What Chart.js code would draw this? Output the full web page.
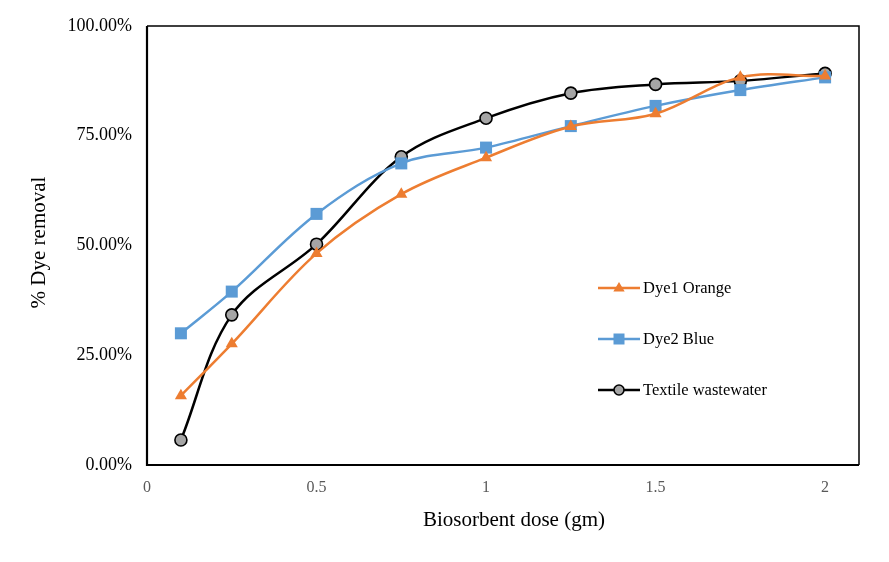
<!DOCTYPE html>
<html>
<head>
<meta charset="utf-8">
<script src="https://cdn.jsdelivr.net/npm/chart.js@4.4.1/dist/chart.umd.min.js"></script>
<style>
  html, body { margin: 0; padding: 0; background: #fff; }
  #wrap { width: 889px; height: 562px; position: relative; }
</style>
</head>
<body>
<div id="wrap"><canvas id="c" width="889" height="562"></canvas></div>
<script>
const doses = [0.1, 0.25, 0.5, 0.75, 1, 1.25, 1.5, 1.75, 2];
const dye1Orange = [15.8, 27.6, 48.2, 61.7, 70.0, 77.1, 80.0, 88.3, 88.6];
const dye2Blue = [30.0, 39.5, 57.2, 68.7, 72.3, 77.2, 81.8, 85.4, 88.3];
const textileWastewater = [5.7, 34.2, 50.3, 70.2, 79.0, 84.7, 86.7, 87.5, 89.2];
const seriesNames = ['Dye1 Orange', 'Dye2 Blue', 'Textile wastewater'];
const yTicks = [0, 25, 50, 75, 100];
const xTicks = [0, 0.5, 1, 1.5, 2];

const FONT = "'Liberation Serif', 'Times New Roman', serif";

function pts(vals) { return doses.map((d, i) => ({ x: d, y: vals[i] })); }

function shiftTitle(scale, dx, dy) {
  if (scale._titleShifted) return;
  scale._titleShifted = true;
  const orig = Object.getPrototypeOf(scale).drawTitle;
  scale.drawTitle = function () {
    this.ctx.save();
    this.ctx.translate(dx, dy);
    orig.call(this);
    this.ctx.restore();
  };
}

const frame = {
  id: 'frame',
  afterDatasetsDraw(chart) {
    const { ctx, chartArea: a } = chart;
    ctx.save();
    ctx.strokeStyle = '#000';
    ctx.lineWidth = 1.5;
    ctx.beginPath();
    ctx.moveTo(a.left, a.top);
    ctx.lineTo(a.right, a.top);
    ctx.lineTo(a.right, a.bottom);
    ctx.stroke();
    ctx.lineWidth = 2.2;
    ctx.beginPath();
    ctx.moveTo(a.left, a.top);
    ctx.lineTo(a.left, a.bottom);
    ctx.lineTo(a.right, a.bottom);
    ctx.stroke();
    ctx.restore();
  }
};

const customLegend = {
  id: 'customLegend',
  afterDraw(chart) {
    const { ctx } = chart;
    const x0 = 598, x1 = 640, tx = 643;
    const ys = [288, 339, 390];
    chart.data.datasets.forEach((ds, i) => {
      const y = ys[i];
      ctx.save();
      ctx.strokeStyle = ds.borderColor;
      ctx.lineWidth = ds.borderWidth;
      ctx.beginPath();
      ctx.moveTo(x0, y);
      ctx.lineTo(x1, y);
      ctx.stroke();
      const cx = (x0 + x1) / 2;
      ctx.fillStyle = ds.pointBackgroundColor;
      ctx.strokeStyle = ds.pointBorderColor;
      ctx.lineWidth = ds.pointBorderWidth;
      ctx.beginPath();
      if (ds.pointStyle === 'triangle') {
        const r = 6;
        ctx.moveTo(cx, y - r);
        ctx.lineTo(cx + r * 0.95, y + r * 0.6);
        ctx.lineTo(cx - r * 0.95, y + r * 0.6);
        ctx.closePath();
      } else if (ds.pointStyle === 'rect') {
        const s = 5.5;
        ctx.rect(cx - s, y - s, 2 * s, 2 * s);
      } else {
        ctx.arc(cx, y, 5, 0, Math.PI * 2);
      }
      ctx.fill();
      if (ds.pointBorderWidth > 0) ctx.stroke();
      ctx.fillStyle = '#000';
      ctx.font = '16.5px ' + FONT;
      ctx.textBaseline = 'middle';
      ctx.textAlign = 'left';
      ctx.fillText(seriesNames[i], tx, y + 1);
      ctx.restore();
    });
  }
};

new Chart(document.getElementById('c'), {
  type: 'line',
  data: {
    datasets: [
      {
        label: seriesNames[0],
        data: pts(dye1Orange),
        borderColor: '#ED7D31',
        backgroundColor: '#ED7D31',
        pointBackgroundColor: '#ED7D31',
        pointBorderColor: '#ED7D31',
        pointBorderWidth: 0,
        pointStyle: 'triangle',
        pointRadius: 7,
        borderWidth: 2.5,
        tension: 0.35,
        fill: false
      },
      {
        label: seriesNames[1],
        data: pts(dye2Blue),
        borderColor: '#5B9BD5',
        backgroundColor: '#5B9BD5',
        pointBackgroundColor: '#5B9BD5',
        pointBorderColor: '#5B9BD5',
        pointBorderWidth: 0,
        pointStyle: 'rect',
        pointRadius: 8.5,
        borderWidth: 2.5,
        tension: 0.35,
        fill: false
      },
      {
        label: seriesNames[2],
        data: pts(textileWastewater),
        borderColor: '#000000',
        backgroundColor: '#A5A5A5',
        pointBackgroundColor: '#A5A5A5',
        pointBorderColor: '#000000',
        pointBorderWidth: 1.6,
        pointStyle: 'circle',
        pointRadius: 6,
        borderWidth: 2.5,
        tension: 0.35,
        fill: false
      }
    ]
  },
  options: {
    responsive: false,
    animation: false,
    devicePixelRatio: 1,
    layout: { padding: { left: 0, top: 26, right: 30, bottom: 0 } },
    plugins: {
      legend: { display: false },
      tooltip: { enabled: false }
    },
    scales: {
      x: {
        type: 'linear',
        min: 0,
        max: 2.1,
        afterBuildTicks(scale) { scale.ticks = xTicks.map(v => ({ value: v })); },
        afterFit(scale) { scale.height = 97; shiftTitle(scale, 11, 0); },
        grid: { display: false, drawTicks: false },
        border: { display: false },
        ticks: {
          color: '#595959',
          font: { family: FONT, size: 16 },
          padding: 13,
          maxRotation: 0,
          callback: v => String(v)
        },
        title: {
          display: true,
          text: 'Biosorbent dose (gm)',
          color: '#000',
          font: { family: FONT, size: 21 },
          padding: { top: 0, bottom: 29 }
        }
      },
      y: {
        type: 'linear',
        min: 0,
        max: 100,
        afterBuildTicks(scale) { scale.ticks = yTicks.map(v => ({ value: v })); },
        afterFit(scale) { scale.width = 147; shiftTitle(scale, 0, -3); },
        grid: { display: false, drawTicks: false },
        border: { display: false },
        ticks: {
          color: '#000',
          font: { family: FONT, size: 18 },
          padding: 15,
          callback: v => v.toFixed(2) + '%'
        },
        title: {
          display: true,
          text: '% Dye removal',
          color: '#000',
          font: { family: FONT, size: 21 },
          padding: { top: 27, bottom: 0 }
        }
      }
    }
  },
  plugins: [frame, customLegend]
});
</script>
</body>
</html>
